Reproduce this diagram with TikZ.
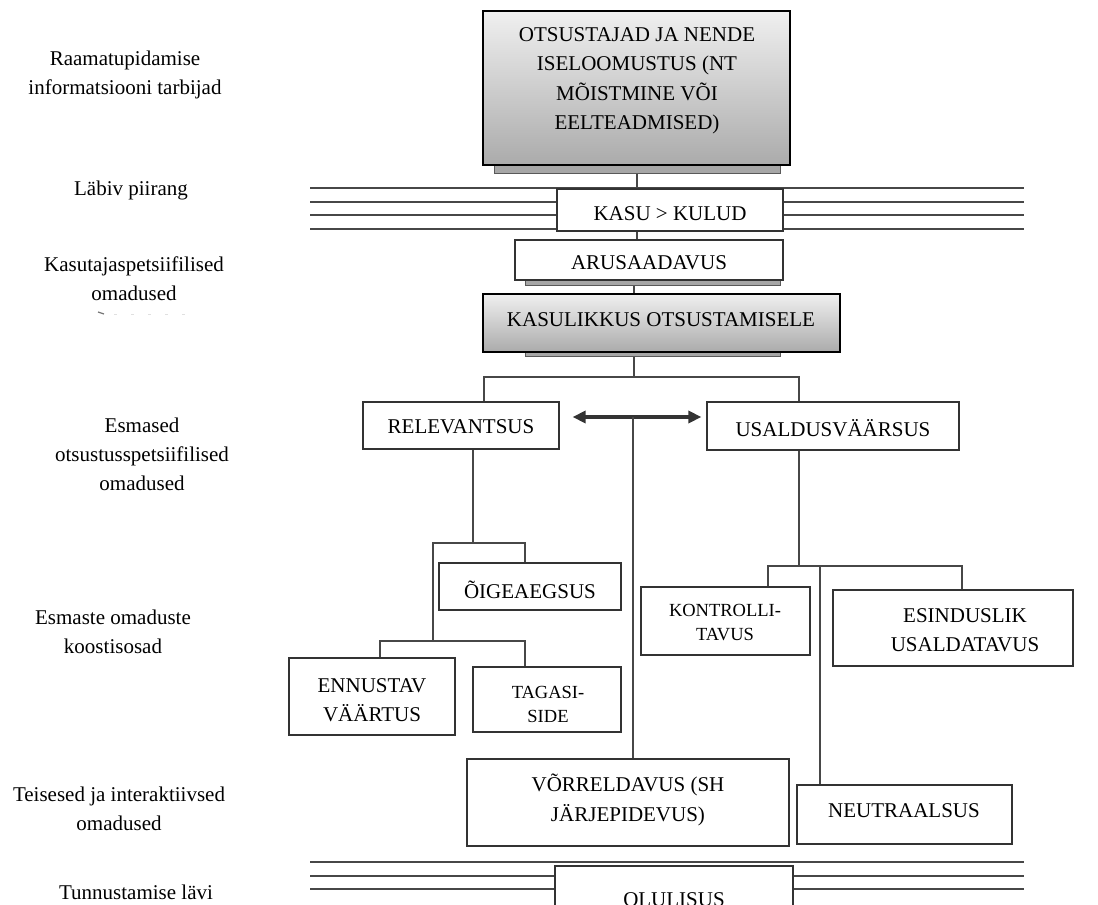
\documentclass[tikz,border=0pt]{standalone}
\usepackage{fontspec}
\setmainfont{Liberation Serif}
\usetikzlibrary{fit,arrows.meta}

\begin{document}
\begin{tikzpicture}[x=1pt,y=-1pt,
  lbl/.style={align=center,font=\fontsize{21}{29}\selectfont,inner sep=0,yshift=-3pt},
  btxt/.style={align=center,font=\fontsize{21}{29.5}\selectfont,inner sep=0,yshift=-3pt},
  stxt/.style={align=center,font=\fontsize{18.5}{24}\selectfont,inner sep=0,yshift=-2pt},
  plain box/.style={draw=black!80,line width=1.2,fill=white,inner sep=0},
  shade box/.style={draw=black,line width=2.2,top color=black!6,bottom color=black!33,inner sep=0},
  under/.style={draw=black!65,line width=1,fill=black!35,inner sep=0},
  link/.style={draw=black!72,line width=1.9},
  rail/.style={draw=black!72,line width=1.6},
  twoway/.style={draw=black!80,line width=3.2,{Triangle[length=13pt,width=12pt]}-{Triangle[length=13pt,width=12pt]}},
]
\useasboundingbox (0,0) rectangle (1098,905);
\clip (0,0) rectangle (1098,905);

% ---- level captions on the left ----
\node[lbl] (c1) at (125,72) {Raamatupidamise\\informatsiooni tarbijad};
\node[lbl] (c2) at (131,187) {Läbiv piirang};
\node[lbl] (c3) at (134,276) {Kasutajaspetsiifilised\\omadused};
\node[lbl] (c4) at (142,451) {Esmased\\otsustusspetsiifilised\\omadused};
\node[lbl] (c5) at (113,629) {Esmaste omaduste\\koostisosad};
\node[lbl] (c6) at (119,806) {Teisesed ja interaktiivsed\\omadused};
\node[lbl] (c7) at (136,889) {Tunnustamise lävi};
% small stray mark under the third caption
\draw[black!55,line width=1.2] (98,312) -- (104,314);
\draw[black!12,line width=1,dash pattern=on 3pt off 14pt] (114,314) -- (196,314);

% ---- rails: pervasive constraint and recognition threshold ----
\foreach \yy in {188,202,215,229} \draw[rail] (310,\yy) -- (1024,\yy);
\foreach \yy in {862,876,889} \draw[rail] (310,\yy) -- (1024,\yy);

% ---- decision makers ----
\node[under, fit={(494,155)(780,173)}] (topsh) {};
\node[shade box, fit={(483,11)(790,165)}] (top) {};
\node[btxt] (top-t) at (637,78) {OTSUSTAJAD JA NENDE\\ISELOOMUSTUS (NT\\MÕISTMINE VÕI\\EELTEADMISED)};

% ---- benefits > costs ----
\node[plain box, fit={(557,189)(783,231)}] (kasu) {};
\node[btxt] (kasu-t) at (670,211) {KASU > KULUD};

% ---- understandability ----
\node[under, fit={(525,272)(780,285)}] (arush) {};
\node[plain box, fit={(515,240)(783,280)}] (aru) {};
\node[btxt] (aru-t) at (649,260) {ARUSAADAVUS};

% ---- decision usefulness ----
\node[under, fit={(525,345)(780,356)}] (kasulsh) {};
\node[shade box, fit={(483,294)(840,352)}] (kasul) {};
\node[btxt] (kasul-t) at (661,317) {KASULIKKUS OTSUSTAMISELE};

% ---- primary qualities ----
\node[plain box, fit={(363,402)(559,449)}] (rel) {};
\node[btxt] (rel-t) at (461,424) {RELEVANTSUS};
\node[plain box, fit={(707,402)(959,450)}] (usal) {};
\node[btxt] (usal-t) at (833,425) {USALDUSVÄÄRSUS};

% ---- ingredients ----
\node[plain box, fit={(439,563)(621,610)}] (oige) {};
\node[btxt] (oige-t) at (530,587) {ÕIGEAEGSUS};
\node[plain box, fit={(289,658)(455,735)}] (enn) {};
\node[btxt] (enn-t) at (372,697) {ENNUSTAV\\VÄÄRTUS};
\node[plain box, fit={(473,667)(621,732)}] (tag) {};
\node[stxt] (tag-t) at (548,702) {TAGASI-\\SIDE};
\node[plain box, fit={(641,587)(810,655)}] (kon) {};
\node[stxt] (kon-t) at (725,621) {KONTROLLI-\\TAVUS};
\node[plain box, fit={(833,590)(1073,666)}] (esi) {};
\node[btxt] (esi-t) at (965,627) {ESINDUSLIK\\USALDATAVUS};

% ---- secondary qualities ----
\node[plain box, fit={(467,759)(789,846)}] (vor) {};
\node[btxt] (vor-t) at (628,797) {VÕRRELDAVUS (SH\\JÄRJEPIDEVUS)};
\node[plain box, fit={(797,785)(1012,844)}] (neu) {};
\node[btxt] (neu-t) at (904,808) {NEUTRAALSUS};

% ---- threshold ----
\node[plain box, fit={(555,866)(793,916)}] (olu) {};
\node[btxt] (olu-t) at (674,897) {OLULISUS};

% ---- connectors ----
\coordinate (sp) at (634,0);
\draw[link] (topsh.south) -- (topsh.south |- kasu.north);
\draw[link] (topsh.south |- kasu.south) -- (topsh.south |- aru.north);
\draw[link] (sp |- arush.south) -- (sp |- kasul.north);

\coordinate (brL) at (484,377);
\coordinate (brR) at (799,377);
\draw[link] (sp |- kasulsh.south) -- (sp |- brL);
\draw[link] (brL |- rel.north) -- (brL) -- (brR) -- (brR |- usal.north);

\coordinate (r1) at (473,543);
\coordinate (r1L) at (433,543);
\coordinate (r1R) at (525,543);
\coordinate (r2L) at (380,641);
\coordinate (r2R) at (525,641);
\draw[link] (r1 |- rel.south) -- (r1);
\draw[link] (r1R |- oige.north) -- (r1R) -- (r1L) -- (r1L |- r2L);
\draw[link] (r2L |- enn.north) -- (r2L) -- (r2R) -- (r2R |- tag.north);

\coordinate (u1) at (799,566);
\coordinate (u1L) at (768,566);
\coordinate (u1R) at (962,566);
\coordinate (u1N) at (820,566);
\draw[link] (u1 |- usal.south) -- (u1);
\draw[link] (u1L |- kon.north) -- (u1L) -- (u1R) -- (u1R |- esi.north);
\draw[link] (u1N) -- (u1N |- neu.north);

\coordinate (arM) at (633,417);
\coordinate (arA) at (arM -| rel.east);
\coordinate (arB) at (arM -| usal.west);
\draw[twoway] ([xshift=13pt]arA) -- ([xshift=-5pt]arB);
\draw[link] (arM) -- (arM |- vor.north);
\end{tikzpicture}
\end{document}
